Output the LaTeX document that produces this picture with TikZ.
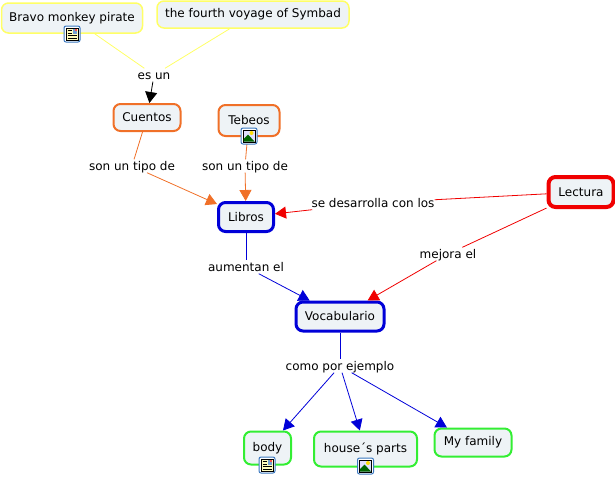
\documentclass[tikz,border=0pt]{standalone}
\usepackage{fontspec}
\setmainfont{DejaVu Sans}
\usetikzlibrary{arrows.meta}
\definecolor{boxfill}{HTML}{EEF3F6}
\definecolor{yellowline}{HTML}{FFFF66}
\definecolor{orangeline}{HTML}{F07028}
\definecolor{blueline}{HTML}{0000D8}
\definecolor{redline}{HTML}{F00000}
\definecolor{greenline}{HTML}{33EE33}
\definecolor{iconblue}{HTML}{3A78C0}
\tikzset{
    concept/.style = {draw, fill=boxfill, rounded corners=7pt, inner sep=0pt, font=\fontsize{12}{14}\selectfont},
    yellowbox/.style = {concept, draw=yellowline, line width=1.5pt},
    orangebox/.style = {concept, draw=orangeline, line width=2pt},
    bluebox/.style = {concept, draw=blueline, line width=3pt},
    redbox/.style = {concept, draw=redline, line width=4pt},
    greenbox/.style = {concept, draw=greenline, line width=2pt},
    linkword/.style = {inner sep=0pt, text height=10.5pt, text depth=2.5pt, font=\fontsize{12}{14}\selectfont},
    connector/.style = {line width=0.8pt},
    arrowhead/.style = {connector, -{Triangle[length=11pt,width=12pt]}},
    docicon/.pic = {
        \draw[iconblue, fill=white, rounded corners=2pt, line width=1pt] (-8,-8) rectangle (8,8);
        \draw[black, fill=yellow!25, line width=1pt] (-6,-6) rectangle (6,6);
        \fill[iconblue!70] (0.5,-5) rectangle (5,-0.5);
        \fill[red!70] (3,-5) rectangle (5,-3);
        \draw[black] (-4.5,-3.5) -- (-0.5,-3.5) (-4.5,-1) -- (-0.5,-1) (-4.5,1.5) -- (4.5,1.5) (-4.5,4) -- (4.5,4);
    },
    imgicon/.pic = {
        \draw[iconblue, fill=white, rounded corners=2pt, line width=1pt] (-8,-8) rectangle (8,8);
        \draw[black, fill=blue!12, line width=1pt] (-6,-6) rectangle (6,6);
        \fill[yellow!80!orange] (2.5,-3) circle (2);
        \fill[green!40!black] (-5.5,5.5) -- (-5.5,3) -- (-1,-1.5) -- (5.5,5.5) -- cycle;
    },
}
\begin{document}
\begin{tikzpicture}[x=1pt, y=-1pt]
        \useasboundingbox (0,0) rectangle (615,477);

        \node (Bravo) [yellowbox, minimum width=141pt, minimum height=30pt] at (72,18) {\raisebox{3pt}{Bravo monkey pirate}};
        \node (Symbad) [yellowbox, minimum width=192pt, minimum height=27pt] at (253,14.5) {the fourth voyage of Symbad};
        \node (Cuentos) [orangebox, minimum width=67pt, minimum height=27pt] at (147,117.5) {Cuentos};
        \node (Tebeos) [orangebox, minimum width=61pt, minimum height=31pt] at (249,120.5) {\raisebox{2pt}{Tebeos}};
        \node (Libros) [bluebox, minimum width=55pt, minimum height=29pt] at (246,217) {Libros};
        \node (Vocabulario) [bluebox, minimum width=88pt, minimum height=29pt] at (340,316.5) {Vocabulario};
        \node (Lectura) [redbox, minimum width=65pt, minimum height=30pt] at (581,192) {Lectura};
        \node (body) [greenbox, minimum width=47pt, minimum height=33pt] at (267.5,448) {\raisebox{2pt}{body}};
        \node (house) [greenbox, minimum width=103pt, minimum height=35pt] at (365.5,449) {\raisebox{3pt}{house´s parts}};
        \node (family) [greenbox, minimum width=77pt, minimum height=28pt] at (473,442.5) {My family};

        \node (esun) [linkword] at (154,75) {es un};
        \node (tipoA) [linkword] at (132,166) {son un tipo de};
        \node (tipoB) [linkword] at (245,166) {son un tipo de};
        \node (desarrolla) [linkword] at (373,203) {se desarrolla con los};
        \node (mejora) [linkword] at (448,254) {mejora el};
        \node (aumentan) [linkword] at (246,267) {aumentan el};
        \node (ejemplo) [linkword] at (340,366) {como por ejemplo};

        \draw[connector, yellowline] (Bravo) -- (esun);
        \draw[connector, yellowline] (Symbad) -- (esun);
        \draw[arrowhead, black] (esun) -- (Cuentos);
        \draw[connector, orangeline] (Cuentos) -- (tipoA);
        \draw[arrowhead, orangeline] (tipoA) -- (Libros);
        \draw[connector, orangeline] (Tebeos) -- (tipoB);
        \draw[arrowhead, orangeline] (tipoB) -- (Libros);
        \draw[connector, redline] (Lectura) -- (desarrolla);
        \draw[arrowhead, redline] (desarrolla) -- (Libros);
        \draw[connector, redline] (Lectura) -- (mejora);
        \draw[arrowhead, redline] (mejora) -- (Vocabulario);
        \draw[connector, blueline] (Libros) -- (aumentan);
        \draw[arrowhead, blueline] (aumentan) -- (Vocabulario);
        \draw[connector, blueline] (Vocabulario) -- (ejemplo);
        \draw[arrowhead, blueline] (ejemplo) -- (body);
        \draw[arrowhead, blueline] (ejemplo) -- (house);
        \draw[arrowhead, blueline] (ejemplo) -- (family);

        \pic at (72,34) {docicon};
        \pic at (249,136) {imgicon};
        \pic at (267,465) {docicon};
        \pic at (365.5,466) {imgicon};
    \end{tikzpicture}
\end{document}
